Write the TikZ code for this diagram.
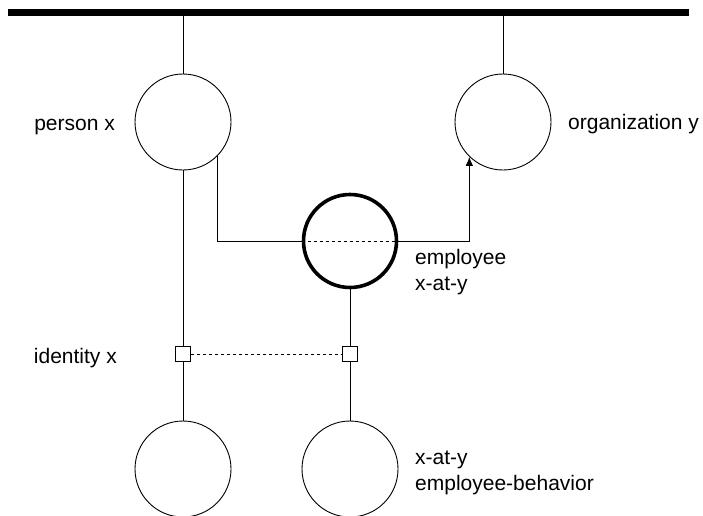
\documentclass[tikz,border=0pt]{standalone}
\usepackage{fontspec}
\setmainfont{Liberation Sans}
\usetikzlibrary{arrows.meta}
\begin{document}
\begin{tikzpicture}[x=1pt, y=-1pt,
  entity/.style={circle, draw, line width=0.9pt, minimum size=96pt, inner sep=0pt},
  relentity/.style={entity, line width=3.6pt, minimum size=93pt},
  link/.style={line width=0.9pt},
  weaklink/.style={line width=0.9pt, dashed, dash pattern=on 3.5pt off 2.5pt},
  keybox/.style={draw, fill=white, line width=0.9pt, minimum size=15pt, inner sep=0pt},
  lbl/.style={font=\fontsize{21}{25.5}\selectfont, inner sep=0pt, align=left}]
\useasboundingbox (0,0) rectangle (703,515);

% universe bar
\coordinate (barL) at (8,12.5);
\coordinate (barR) at (689,12.5);
\draw[line width=6.5pt] (barL) -- (barR);
\coordinate (barP) at (183,12.5);
\coordinate (barO) at (503,12.5);

% entities
\node[entity] (person) at (183,122) {};
\node[entity] (org) at (503,122) {};
\node[relentity] (emp) at (350,241) {};
\node[entity] (idbeh) at (183,469) {};
\node[entity] (empbeh) at (350,469) {};

% identity keys
\node[keybox] (keyL) at (183,354) {};
\node[keybox] (keyR) at (350,354) {};

% labels (base anchor of a two-line label sits on its last line)
\node[lbl, anchor=base east] (lperson) at (115,130.5) {person x};
\node[lbl, anchor=base west] (lorg) at (568,129.5) {organization y};
\node[lbl, anchor=base west] (lemp) at (415,290) {employee\\x-at-y};
\node[lbl, anchor=base east] (lid) at (117,363) {identity x};
\node[lbl, anchor=base west] (lbeh) at (415,490) {x-at-y\\employee-behavior};

% connectors
\draw[link] (barP) -- (person.north);
\draw[link] (barO) -- (org.north);
\draw[link] (person.-44) |- (emp.west);
\draw[link, -{Latex[length=9pt,width=7.5pt]}] (emp.east) -| (org.226);
\draw[weaklink] (emp.west) -- (emp.east);
\draw[link] (person.south) -- (keyL.north);
\draw[link] (keyL.south) -- (idbeh.north);
\draw[link] (emp.south) -- (keyR.north);
\draw[link] (keyR.south) -- (empbeh.north);
\draw[weaklink] (keyL.east) -- (keyR.west);
\end{tikzpicture}
\end{document}
